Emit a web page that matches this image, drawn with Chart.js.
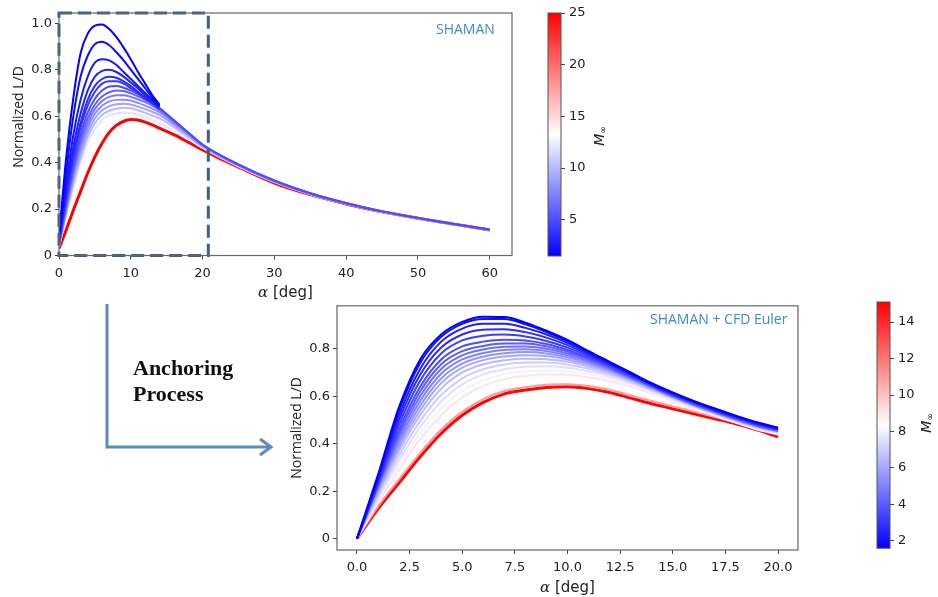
<!DOCTYPE html>
<html>
<head>
<meta charset="utf-8">
<script src="https://cdn.jsdelivr.net/npm/chart.js@4.4.0/dist/chart.umd.min.js"></script>
<style>
  body { margin: 0; width: 938px; height: 597px; background: #fff; position: relative; overflow: hidden; }
  .box { position: absolute; }
  .tag { position: absolute; font: 14px 'Open Sans', sans-serif; color: #3a8ad4; white-space: nowrap; }
  #anchor { position: absolute; left: 133px; top: 355px; font: bold 22px 'Liberation Serif', 'DejaVu Serif', serif; line-height: 26px; color: #111; }
  svg { position: absolute; left: 0; top: 0; }
</style>
</head>
<body>
<div class="box" style="left:0;top:0;width:530px;height:310px"><canvas id="topChart"></canvas></div>
<div class="box" style="left:540px;top:0;width:90px;height:270px"><canvas id="topBar"></canvas></div>
<div class="box" style="left:280px;top:295px;width:560px;height:302px"><canvas id="botChart"></canvas></div>
<div class="box" style="left:860px;top:290px;width:78px;height:270px"><canvas id="botBar"></canvas></div>
<div class="tag" style="left:436px;top:19px">SHAMAN</div>
<div class="tag" style="left:650px;top:309px">SHAMAN + CFD Euler</div>
<svg width="938" height="597">
  <path d="M107,304 V447 H270" fill="none" stroke="#5b89c2" stroke-width="3"/>
  <polyline points="260,439 271,447 260,455" fill="none" stroke="#5b89c2" stroke-width="3"/>
</svg>
<div id="anchor">Anchoring<br>Process</div>
<script>
// ---------- top chart: SHAMAN, alpha 0..60 ----------
const topAlpha = [0,1,2,3,4,5,6,7,8,9,10,11,12,13,14,16,18,20,25,30,35,40,45,50,55,60];
const topMach = [1.5, 2, 2.5, 3, 3.5, 4, 5, 6, 7, 8, 9, 10, 12, 25];
const ldTopM1p5 = [0.08,0.42,0.68,0.87,0.955,0.99,0.995,0.975,0.94,0.895,0.845,0.79,0.74,0.69,0.65];
const ldTopM2   = [0.07,0.36,0.6,0.77,0.86,0.91,0.92,0.905,0.875,0.84,0.8,0.76,0.72,0.68,0.645];
const ldTopM2p5 = [0.07,0.31,0.52,0.67,0.77,0.83,0.845,0.84,0.82,0.79,0.76,0.73,0.7,0.67,0.64];
const ldTopM3   = [0.06,0.28,0.47,0.61,0.71,0.77,0.795,0.8,0.79,0.77,0.745,0.72,0.69,0.665,0.64];
const ldTopM3p5 = [0.06,0.26,0.44,0.57,0.67,0.73,0.76,0.77,0.765,0.75,0.73,0.705,0.68,0.66,0.635];
const ldTopM4   = [0.06,0.25,0.42,0.55,0.645,0.705,0.74,0.75,0.75,0.74,0.72,0.7,0.675,0.655,0.63];
const ldTopM5   = [0.05,0.23,0.39,0.52,0.615,0.675,0.71,0.728,0.73,0.722,0.71,0.695,0.678,0.658,0.635,0.583,0.53,0.478,0.392,0.323,0.268,0.226,0.19,0.162,0.136,0.112];
const ldTopM6   = [0.05,0.22,0.37,0.5,0.59,0.65,0.685,0.703,0.71,0.708,0.698,0.685,0.67,0.652,0.631,0.58,0.528,0.477,0.391,0.322,0.268,0.225,0.19,0.161,0.136,0.112];
const ldTopM7   = [0.05,0.21,0.36,0.48,0.57,0.63,0.665,0.683,0.69,0.69,0.683,0.672,0.66,0.645,0.626,0.576,0.526,0.476,0.39,0.321,0.267,0.225,0.19,0.161,0.136,0.112];
const ldTopM8   = [0.04,0.2,0.34,0.46,0.55,0.61,0.645,0.663,0.67,0.671,0.667,0.657,0.645,0.632,0.617,0.57,0.522,0.474,0.389,0.32,0.266,0.224,0.189,0.161,0.135,0.111];
const ldTopM9   = [0.04,0.19,0.33,0.44,0.53,0.59,0.625,0.643,0.651,0.653,0.65,0.641,0.63,0.618,0.605,0.562,0.517,0.471,0.387,0.319,0.265,0.224,0.189,0.16,0.135,0.111];
const ldTopM10  = [0.04,0.18,0.31,0.42,0.51,0.57,0.605,0.623,0.632,0.636,0.634,0.625,0.614,0.602,0.59,0.552,0.511,0.468,0.385,0.318,0.264,0.223,0.189,0.16,0.135,0.111];
const ldTopM12  = [0.035,0.17,0.29,0.4,0.485,0.545,0.585,0.604,0.612,0.615,0.613,0.606,0.596,0.583,0.569,0.538,0.502,0.463,0.383,0.316,0.263,0.223,0.188,0.16,0.135,0.11];
const ldTopM25  = [0.03,0.11,0.195,0.275,0.355,0.425,0.483,0.53,0.56,0.578,0.586,0.583,0.574,0.562,0.548,0.52,0.488,0.455,0.38,0.312,0.262,0.222,0.188,0.16,0.135,0.11];
const topXTicks = [0,10,20,30,40,50,60];
const topYTicks = [0,0.2,0.4,0.6,0.8,1.0];
const topBarTicks = [5,10,15,20,25];
const topMachRange = [1.5, 25];
const zoomBox = [0, 20.8];   // dashed region (deg)

// ---------- bottom chart: SHAMAN + CFD Euler, alpha 0..20 ----------
const botAlpha = [0,1,2,3,4,5,6,7,8,9,10,11,12,13,14,15,16,17,18,19,20];
const botMach = [1.6,2,2.4,2.8,3.2,3.6,4,4.5,5,5.5,6,6.5,7,7.5,8,9,11,15];
const ldBotM1p6 = [0,0.27,0.555,0.755,0.86,0.913,0.935,0.934,0.91,0.876,0.837,0.79,0.745,0.7,0.655,0.616,0.58,0.548,0.518,0.49,0.468];
const ldBotM2   = [0,0.26,0.54,0.74,0.85,0.905,0.925,0.925,0.903,0.87,0.832,0.787,0.742,0.697,0.652,0.613,0.578,0.546,0.516,0.488,0.466];
const ldBotM2p4 = [0,0.25,0.52,0.715,0.83,0.885,0.905,0.905,0.888,0.86,0.825,0.782,0.738,0.694,0.65,0.611,0.576,0.544,0.514,0.486,0.464];
const ldBotM2p8 = [0,0.24,0.5,0.69,0.805,0.86,0.88,0.882,0.87,0.847,0.815,0.776,0.734,0.691,0.648,0.609,0.574,0.542,0.512,0.484,0.462];
const ldBotM3p2 = [0,0.235,0.48,0.665,0.78,0.835,0.855,0.86,0.852,0.833,0.805,0.77,0.73,0.688,0.646,0.607,0.572,0.54,0.51,0.482,0.46];
const ldBotM3p6 = [0,0.23,0.46,0.64,0.755,0.81,0.83,0.838,0.835,0.82,0.795,0.763,0.726,0.685,0.644,0.605,0.57,0.538,0.508,0.48,0.458];
const ldBotM4   = [0,0.225,0.445,0.62,0.735,0.79,0.812,0.822,0.822,0.81,0.788,0.758,0.722,0.682,0.642,0.603,0.568,0.536,0.506,0.478,0.456];
const ldBotM4p5 = [0,0.22,0.43,0.6,0.715,0.772,0.797,0.808,0.81,0.8,0.78,0.752,0.718,0.679,0.64,0.601,0.566,0.534,0.504,0.476,0.455];
const ldBotM5   = [0,0.215,0.415,0.58,0.695,0.755,0.782,0.795,0.798,0.79,0.772,0.746,0.714,0.676,0.638,0.6,0.565,0.533,0.503,0.475,0.454];
const ldBotM5p5 = [0,0.21,0.4,0.56,0.675,0.737,0.767,0.781,0.786,0.78,0.764,0.74,0.71,0.673,0.636,0.598,0.564,0.532,0.502,0.474,0.453];
const ldBotM6   = [0,0.2,0.385,0.54,0.655,0.72,0.752,0.767,0.773,0.769,0.755,0.733,0.705,0.67,0.633,0.596,0.562,0.53,0.5,0.472,0.452];
const ldBotM6p5 = [0,0.19,0.37,0.52,0.632,0.7,0.735,0.752,0.758,0.756,0.745,0.725,0.699,0.666,0.63,0.594,0.56,0.528,0.498,0.47,0.45];
const ldBotM7   = [0,0.18,0.35,0.495,0.605,0.675,0.714,0.734,0.742,0.742,0.733,0.716,0.692,0.661,0.626,0.591,0.558,0.526,0.496,0.468,0.448];
const ldBotM7p5 = [0,0.17,0.33,0.47,0.578,0.65,0.692,0.714,0.724,0.726,0.72,0.705,0.684,0.655,0.622,0.588,0.555,0.524,0.494,0.466,0.446];
const ldBotM8   = [0,0.16,0.31,0.445,0.55,0.622,0.668,0.693,0.705,0.709,0.705,0.693,0.674,0.648,0.617,0.584,0.552,0.521,0.491,0.463,0.443];
const ldBotM9   = [0,0.15,0.29,0.42,0.52,0.595,0.643,0.672,0.686,0.692,0.69,0.68,0.663,0.64,0.611,0.58,0.548,0.517,0.488,0.46,0.44];
const ldBotM11  = [0,0.135,0.25,0.36,0.46,0.535,0.588,0.622,0.638,0.648,0.65,0.643,0.627,0.604,0.58,0.557,0.535,0.512,0.49,0.464,0.437];
const ldBotM15  = [0,0.125,0.235,0.345,0.443,0.52,0.574,0.61,0.626,0.637,0.64,0.632,0.616,0.592,0.568,0.547,0.526,0.505,0.484,0.458,0.429];
const botXTicks = [0,2.5,5,7.5,10,12.5,15,17.5,20];
const botYTicks = [0,0.2,0.4,0.6,0.8];
const botBarTicks = [2,4,6,8,10,12,14];
const botMachRange = [1.6, 15.1];

const topSeries = [ldTopM1p5, ldTopM2, ldTopM2p5, ldTopM3, ldTopM3p5, ldTopM4, ldTopM5, ldTopM6, ldTopM7, ldTopM8, ldTopM9, ldTopM10, ldTopM12, ldTopM25];
const botSeries = [ldBotM1p6, ldBotM2, ldBotM2p4, ldBotM2p8, ldBotM3p2, ldBotM3p6, ldBotM4, ldBotM4p5, ldBotM5, ldBotM5p5, ldBotM6, ldBotM6p5, ldBotM7, ldBotM7p5, ldBotM8, ldBotM9, ldBotM11, ldBotM15];

const TICK_FONT = { family: "'DejaVu Sans', sans-serif", size: 13 };
const TEXT = '#222';

// matplotlib 'bwr' colormap
function bwr(t) {
  t = Math.max(0, Math.min(1, t));
  let r, g, b;
  if (t < 0.5) { r = g = Math.round(510 * t); b = 255; }
  else { r = 255; g = b = Math.round(510 * (1 - t)); }
  return `rgb(${r},${g},${b})`;
}

function makeDatasets(alpha, series, mach, range) {
  return series.map((ys, i) => ({
    data: ys.map((y, j) => ({ x: alpha[j], y: y })),
    borderColor: bwr((mach[i] - range[0]) / (range[1] - range[0])),
    borderWidth: i === series.length - 1 ? 3 : 2,
    pointRadius: 0,
    cubicInterpolationMode: 'monotone',
    fill: false
  }));
}

function fmt(v) { return v === 0 ? '0' : v.toFixed(1); }

// frame + custom titles (italic alpha, offset y label)
function framePlugin(yTitleX, yTitleY, xTitleY) {
  return {
    id: 'frame',
    afterDraw(chart) {
      const { ctx, chartArea: a } = chart;
      ctx.save();
      ctx.strokeStyle = '#666';
      ctx.lineWidth = 1.2;
      ctx.strokeRect(a.left, a.top, a.right - a.left, a.bottom - a.top);
      ctx.fillStyle = TEXT;
      // x title
      ctx.textBaseline = 'middle';
      const fa = "italic 15px 'DejaVu Serif', serif", fr = "15px 'DejaVu Sans', sans-serif";
      ctx.font = fa; const wa = ctx.measureText('α').width;
      ctx.font = fr; const wr = ctx.measureText(' [deg]').width;
      let x0 = (a.left + a.right) / 2 - (wa + wr) / 2;
      ctx.font = fa; ctx.textAlign = 'left'; ctx.fillText('α', x0, xTitleY);
      ctx.font = fr; ctx.fillText(' [deg]', x0 + wa, xTitleY);
      // y title
      ctx.translate(yTitleX, yTitleY === null ? (a.top + a.bottom) / 2 : yTitleY);
      ctx.rotate(-Math.PI / 2);
      ctx.textAlign = 'center';
      ctx.font = "14px 'Open Sans', sans-serif";
      ctx.fillText('Normalized L/D', 0, 0);
      ctx.restore();
    }
  };
}

const dashedBox = {
  id: 'dashedBox',
  afterDatasetsDraw(chart) {
    const { ctx, chartArea: a, scales } = chart;
    const x0 = scales.x.getPixelForValue(zoomBox[0]);
    const x1 = scales.x.getPixelForValue(zoomBox[1]);
    ctx.save();
    ctx.strokeStyle = '#3d6089';
    ctx.lineWidth = 3;
    ctx.setLineDash([13, 6]);
    ctx.strokeRect(x0, a.top, x1 - x0, a.bottom - a.top);
    ctx.restore();
  }
};

function lineChart(id, alpha, series, mach, range, o) {
  return new Chart(document.getElementById(id), {
    type: 'line',
    data: { datasets: makeDatasets(alpha, series, mach, range) },
    options: {
      responsive: true, maintainAspectRatio: false, animation: false,
      layout: { padding: { top: o.padTop, right: o.padRight, left: 0, bottom: 0 } },
      plugins: { legend: { display: false }, tooltip: { enabled: false } },
      scales: {
        x: {
          type: 'linear', min: o.xMin, max: o.xMax,
          afterBuildTicks: ax => { ax.ticks = o.xTicks.map(v => ({ value: v })); },
          afterFit: ax => { ax.height = o.xAxisH; },
          grid: { drawOnChartArea: false, tickLength: 4, color: '#444' },
          border: { display: false },
          ticks: { font: TICK_FONT, color: TEXT, padding: o.xTickPad, maxRotation: 0, callback: o.xFmt }
        },
        y: {
          min: o.yMin, max: o.yMax,
          afterBuildTicks: ax => { ax.ticks = o.yTicks.map(v => ({ value: v })); },
          afterFit: ax => { ax.width = o.yAxisW; },
          grid: { drawOnChartArea: false, tickLength: 4, color: '#444' },
          border: { display: false },
          ticks: { font: TICK_FONT, color: TEXT, padding: 3, callback: v => fmt(v) }
        }
      }
    },
    plugins: o.plugins
  });
}

function colorBar(id, range, ticks, o) {
  const barPlugin = {
    id: 'bar',
    beforeDatasetsDraw(chart) {
      const { ctx, chartArea: a } = chart;
      const g = ctx.createLinearGradient(0, a.bottom, 0, a.top);
      g.addColorStop(0, bwr(0)); g.addColorStop(0.5, bwr(0.5)); g.addColorStop(1, bwr(1));
      ctx.save();
      ctx.fillStyle = g;
      ctx.fillRect(a.left, a.top, a.right - a.left, a.bottom - a.top);
      ctx.strokeStyle = '#555'; ctx.lineWidth = 1;
      ctx.strokeRect(a.left, a.top, a.right - a.left, a.bottom - a.top);
      // label M_inf, reads bottom to top
      ctx.translate(o.labelX, o.labelY);
      ctx.rotate(-Math.PI / 2);
      ctx.fillStyle = TEXT;
      ctx.textBaseline = 'middle';
      ctx.font = "italic 14px 'DejaVu Sans', sans-serif";
      const wm = ctx.measureText('M').width;
      ctx.font = "9px 'DejaVu Sans', sans-serif";
      const wi = ctx.measureText('∞').width;
      const s = -(wm + wi) / 2;
      ctx.font = "italic 14px 'DejaVu Sans', sans-serif";
      ctx.fillText('M', s, 0);
      ctx.font = "9px 'DejaVu Sans', sans-serif";
      ctx.fillText('∞', s + wm, 4);
      ctx.restore();
    }
  };
  return new Chart(document.getElementById(id), {
    type: 'bar',
    data: { labels: [''], datasets: [{ data: [] }] },
    options: {
      responsive: true, maintainAspectRatio: false, animation: false,
      layout: { padding: { top: o.padTop, bottom: o.padBottom, left: o.padLeft, right: 0 } },
      plugins: { legend: { display: false }, tooltip: { enabled: false } },
      scales: {
        x: { display: false },
        y: {
          position: 'right', min: range[0], max: range[1],
          afterBuildTicks: ax => { ax.ticks = ticks.map(v => ({ value: v })); },
          afterFit: ax => { ax.width = o.axisW; },
          grid: { drawOnChartArea: false, tickLength: 4, color: '#444' },
          border: { display: false },
          ticks: { font: TICK_FONT, color: TEXT, padding: 4 }
        }
      }
    },
    plugins: [barPlugin]
  });
}

lineChart('topChart', topAlpha, topSeries, topMach, topMachRange, {
  padTop: 13, padRight: 18, xMin: 0, xMax: 63.1, yMin: 0, yMax: 1.044,
  xTicks: topXTicks, yTicks: topYTicks, xAxisH: 54.5, yAxisW: 59, xTickPad: 6,
  xFmt: v => String(v),
  plugins: [dashedBox, framePlugin(19, 117, 293)]
});

lineChart('botChart', botAlpha, botSeries, botMach, botMachRange, {
  padTop: 7, padRight: 42, xMin: -0.95, xMax: 20.95, yMin: -0.048, yMax: 0.981,
  xTicks: botXTicks, yTicks: botYTicks, xAxisH: 47, yAxisW: 57, xTickPad: 6,
  xFmt: v => v.toFixed(1),
  plugins: [framePlugin(17, null, 293)]
});

colorBar('topBar', topMachRange, topBarTicks, { padTop: 13, padBottom: 14, padLeft: 8, axisW: 69, labelX: 60, labelY: 136 });
colorBar('botBar', botMachRange, botBarTicks, { padTop: 12, padBottom: 11, padLeft: 17, axisW: 48, labelX: 67, labelY: 133 });
</script>
</body>
</html>
